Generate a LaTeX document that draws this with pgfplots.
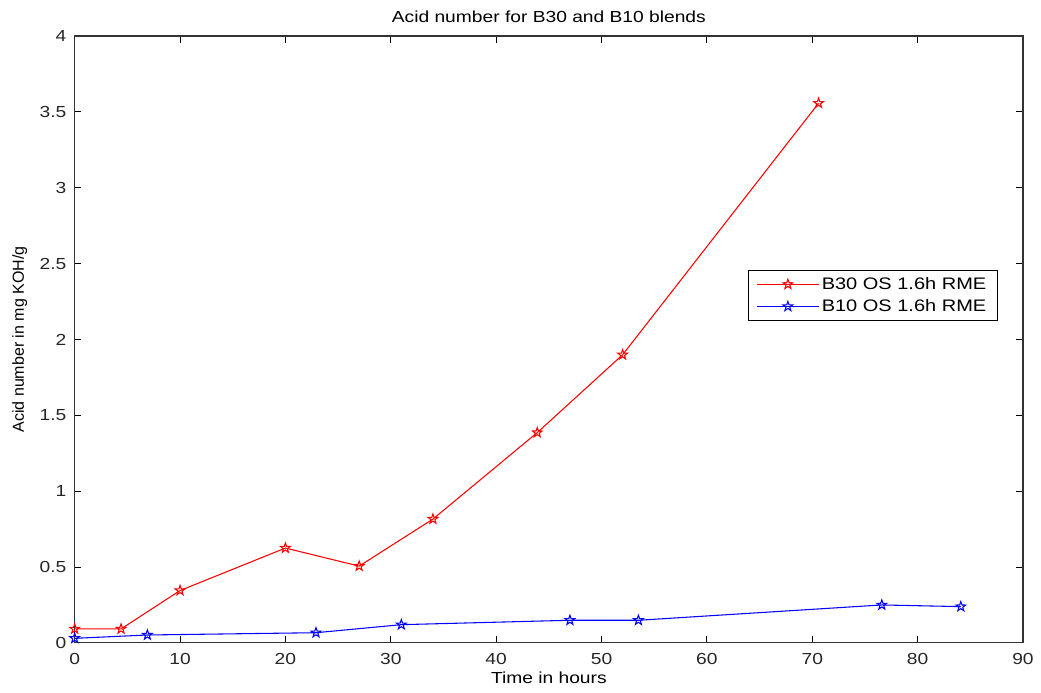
\documentclass[border=0pt]{standalone}
\usepackage{fontspec}
\setmainfont{Liberation Sans}
\newfontfamily\wide{Liberation Sans}[FakeStretch=1.2]
\usepackage{pgfplots}
\pgfplotsset{compat=1.18}

% MATLAB-style outlined pentagram
\pgfdeclareplotmark{pentagram}{%
  \pgfpathmoveto{\pgfpointpolar{90}{\pgfplotmarksize}}%
  \pgfpathlineto{\pgfpointpolar{126}{0.4\pgfplotmarksize}}%
  \pgfpathlineto{\pgfpointpolar{162}{\pgfplotmarksize}}%
  \pgfpathlineto{\pgfpointpolar{198}{0.4\pgfplotmarksize}}%
  \pgfpathlineto{\pgfpointpolar{234}{\pgfplotmarksize}}%
  \pgfpathlineto{\pgfpointpolar{270}{0.4\pgfplotmarksize}}%
  \pgfpathlineto{\pgfpointpolar{306}{\pgfplotmarksize}}%
  \pgfpathlineto{\pgfpointpolar{342}{0.4\pgfplotmarksize}}%
  \pgfpathlineto{\pgfpointpolar{18}{\pgfplotmarksize}}%
  \pgfpathlineto{\pgfpointpolar{54}{0.4\pgfplotmarksize}}%
  \pgfpathclose\pgfusepathqstroke}

\begin{document}
\begin{tikzpicture}
\begin{axis}[
  scale only axis,
  width=711pt,
  height=455pt,
  xmin=0, xmax=90,
  ymin=0, ymax=4,
  xtick={0,10,...,90},
  ytick={0,0.5,...,4},
  tick align=inside,
  major tick length=5pt,
  tick style={black, line width=0.6pt},
  axis line style={black!80, line width=0.9pt},
  every axis plot/.append style={line width=0.8pt},
  /pgf/number format/assume math mode=true,
  tick label style={font=\wide\fontsize{12}{14}\selectfont, text=black!85},
  xticklabel shift=4pt,
  yticklabel style={/pgf/number format/fixed, inner xsep=6pt},
  title={Acid number for B30 and B10 blends},
  every axis title/.style={font=\wide\fontsize{12}{14}\selectfont,
    at={(axis description cs:0.5,1.031)}, anchor=center},
  xlabel={Time in hours},
  xlabel style={font=\wide\fontsize{12}{14}\selectfont,
    at={(axis description cs:0.5,-0.057)}, anchor=center},
  ylabel={Acid number in mg KOH/g},
  ylabel style={font=\fontsize{12}{14}\selectfont,
    at={(axis description cs:-0.058,0.5)}, anchor=center},
  legend style={
    at={(rel axis cs:0.973,0.614)}, anchor=north east,
    font=\wide\fontsize{12.5}{15}\selectfont,
    draw=black, line width=0.6pt,
    inner xsep=6pt, inner ysep=3pt,
    row sep=2pt,
  },
  legend cell align=left,
  legend image code/.code={%
    \draw[mark repeat=2, mark phase=2, #1, line width=0.8pt]
      plot coordinates {(0pt,0pt) (23pt,0pt) (46pt,0pt)};},
]
\addplot[color=red, mark=pentagram, mark size=3.8pt, mark options={solid}]
coordinates {
  (0,0.092) (4.4,0.092) (10.0,0.345) (20.0,0.625) (27.0,0.506)
  (34.0,0.816) (43.9,1.386) (52.0,1.899) (70.6,3.557)
};
\addlegendentry{B30 OS 1.6h RME}
\addplot[color=blue, mark=pentagram, mark size=3.8pt, mark options={solid}]
coordinates {
  (0,0.030) (6.9,0.052) (22.9,0.067) (31.0,0.120) (47.0,0.149)
  (53.5,0.149) (76.6,0.250) (84.1,0.239)
};
\addlegendentry{B10 OS 1.6h RME}
\end{axis}
\pgfresetboundingbox
\path ([shift={(-56pt,-37.5pt)}]current axis.south west)
  rectangle ([shift={(13.5pt,27pt)}]current axis.north east);
\end{tikzpicture}
\end{document}
